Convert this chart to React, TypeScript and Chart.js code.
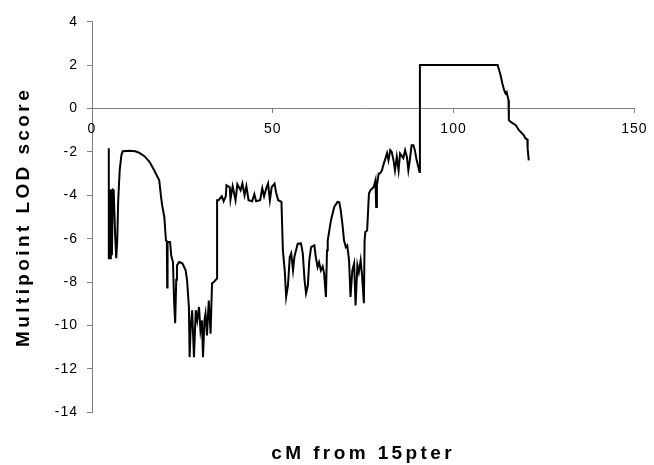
import React, { useEffect, useRef } from 'react';
import { Chart, registerables } from 'chart.js';

Chart.register(...registerables);

const FONT = '"Liberation Sans", Arial, Helvetica, sans-serif';

// Position along chromosome 15 (cM from 15pter)
const lodX = [
  4.65, 4.65, 4.93, 5.06, 5.2, 5.5, 5.75, 6.0, 6.4, 6.7,
  6.98, 7.25, 7.66, 8.13, 8.49, 10.4, 12.0, 13.1, 14.5, 15.9,
  17.2, 18.6, 19.1, 19.4, 20.0, 20.45, 20.7, 20.8, 20.9, 21.6,
  21.9, 22.4, 22.7, 23.0, 23.3, 23.5, 24.1, 25.0, 25.9, 26.3,
  26.8, 27.0, 27.3, 27.7, 28.2, 28.7, 29.1, 29.6, 30.0, 30.4,
  30.7, 31.1, 31.4, 31.8, 32.3, 32.8, 33.2, 33.7, 34.6, 34.6,
  35.0, 35.9, 36.4, 37.0, 37.2, 38.1, 38.3, 38.9, 39.7, 40.2,
  41.1, 41.6, 42.2, 42.7, 43.3, 44.3, 44.9, 45.4, 46.5, 47.1,
  47.6, 48.2, 48.7, 49.2, 49.7, 50.5, 50.9, 51.5, 52.4, 52.8,
  53.3, 53.7, 54.2, 54.7, 55.1, 55.6, 56.0, 56.9, 57.8, 58.3,
  58.8, 59.2, 59.7, 60.1, 60.6, 61.5, 61.9, 62.4, 62.8, 63.3,
  63.8, 64.2, 64.7, 65.0, 65.2, 66.1, 67.0, 67.9, 68.4, 68.8,
  69.3, 69.7, 70.2, 70.6, 71.1, 71.5, 72.0, 72.5, 72.9, 73.4,
  73.8, 74.3, 74.7, 75.2, 75.4, 75.6, 76.1, 76.6, 77.0, 77.9,
  78.4, 78.6, 78.8, 79.3, 79.7, 80.2, 80.7, 81.0, 81.6, 82.0,
  82.5, 82.9, 83.4, 83.8, 84.3, 84.8, 85.2, 86.1, 86.6, 87.1,
  87.5, 87.9, 88.4, 88.9, 89.3, 89.8, 90.6, 90.7, 112.2, 112.6,
  113.1, 113.5, 114.0, 114.4, 114.7, 115.2, 115.3, 115.8, 117.2, 118.1,
  119.4, 119.9, 120.4, 120.5, 120.8,
];

// Multipoint LOD score
const lodY = [
  -1.83, -6.95, -3.74, -6.9, -3.74, -6.77, -3.74, -3.77, -5.85, -6.9,
  -6.1, -4.23, -2.85, -2.15, -1.97, -1.95, -1.97, -2.05, -2.2, -2.46,
  -2.85, -3.31, -4.08, -4.46, -5.0, -6.08, -6.12, -8.25, -6.15, -6.15,
  -6.77, -7.09, -8.85, -9.9, -7.9, -7.23, -7.08, -7.14, -7.46, -7.92,
  -9.15, -11.46, -10.08, -9.3, -11.46, -9.3, -9.77, -9.15, -10.23, -9.77,
  -11.46, -9.77, -9.45, -10.46, -8.85, -10.38, -8.06, -8.0, -7.83, -4.23,
  -4.23, -4.05, -4.28, -4.05, -3.54, -3.63, -4.19, -3.58, -4.23, -3.49,
  -3.77, -3.46, -4.0, -3.58, -4.23, -4.28, -3.95, -4.28, -4.23, -3.68,
  -4.05, -3.68, -3.46, -4.23, -3.63, -3.46, -3.86, -4.23, -4.31, -6.54,
  -7.46, -8.69, -8.16, -6.85, -6.68, -7.46, -6.82, -6.23, -6.22, -6.68,
  -7.92, -8.52, -8.16, -7.0, -6.39, -6.31, -6.85, -7.31, -7.09, -7.46,
  -7.28, -7.6, -8.69, -6.54, -6.08, -5.15, -4.54, -4.31, -4.33, -4.7,
  -5.39, -6.08, -6.39, -6.31, -7.0, -8.69, -7.46, -7.14, -9.08, -7.23,
  -7.55, -7.0, -7.69, -8.98, -6.08, -5.69, -5.62, -3.92, -3.77, -3.62,
  -3.31, -4.54, -3.54, -3.0, -2.99, -2.85, -2.54, -2.39, -2.06, -2.39,
  -1.92, -2.0, -2.39, -2.85, -2.23, -2.85, -2.08, -2.29, -1.92, -2.23,
  -2.85, -2.39, -1.69, -1.69, -1.92, -2.39, -2.93, 2.0, 2.0, 1.77,
  1.46, 1.15, 0.84, 0.69, 0.75, 0.38, -0.54, -0.62, -0.77, -1.0,
  -1.23, -1.38, -1.42, -1.85, -2.39,
];

const xTicks = [0, 50, 100, 150];
const yTicks = [-14, -12, -10, -8, -6, -4, -2, 0, 2, 4];

const xTitle = 'cM from 15pter';
const yTitle = 'Multipoint LOD score';

const spacingPlugin = {
  id: 'letterSpacingPlugin',
  beforeDraw(chart: any) {
    chart.ctx.letterSpacing = '3.4px';
  },
  afterDatasetsDraw(chart: any) {
    chart.ctx.letterSpacing = '1px';
  },
  afterDraw(chart: any) {
    chart.ctx.letterSpacing = '0px';
  },
};

export default function App() {
  const ref = useRef<HTMLCanvasElement | null>(null);

  useEffect(() => {
    if (!ref.current) return;
    const points = lodX.map((x, i) => ({ x, y: lodY[i] }));
    const chart = new Chart(ref.current, {
      type: 'line',
      data: {
        datasets: [
          {
            data: points,
            borderColor: '#000000',
            borderWidth: 2,
            pointRadius: 0,
            tension: 0,
            fill: false,
          },
        ],
      },
      options: {
        animation: false,
        responsive: false,
        layout: { padding: { top: 21.7, right: 14, bottom: 0, left: 0 } },
        plugins: {
          legend: { display: false },
          tooltip: { enabled: false },
          title: {
            display: true,
            text: xTitle,
            position: 'bottom',
            fullSize: false,
            color: '#000000',
            font: { family: FONT, size: 19, weight: 'bold' },
            padding: { top: 30, bottom: 0 },
          },
        },
        scales: {
          x: {
            type: 'linear',
            position: { y: 0 } as any,
            min: xTicks[0],
            max: xTicks[xTicks.length - 1],
            afterBuildTicks: (s: any) => {
              s.ticks = xTicks.map((v) => ({ value: v }));
            },
            ticks: {
              color: '#000000',
              font: { family: FONT, size: 14 },
              padding: 8,
              z: 1,
              maxRotation: 0,
              autoSkip: false,
            },
            grid: { drawOnChartArea: false, drawTicks: true, tickLength: 4, color: '#808080' },
            border: { color: '#808080', width: 1 },
          },
          y: {
            type: 'linear',
            position: 'left',
            min: yTicks[0],
            max: yTicks[yTicks.length - 1],
            afterBuildTicks: (s: any) => {
              s.ticks = yTicks.map((v) => ({ value: v }));
            },
            afterFit: (s: any) => {
              s.width = 92;
            },
            ticks: {
              color: '#000000',
              font: { family: FONT, size: 14 },
              padding: 9,
              z: 1,
              autoSkip: false,
            },
            grid: { drawOnChartArea: false, drawTicks: true, tickLength: 5, color: '#808080' },
            border: { color: '#808080', width: 1 },
            title: {
              display: true,
              text: yTitle,
              color: '#000000',
              font: { family: FONT, size: 19, weight: 'bold' },
              padding: { top: 12, bottom: 0 },
            },
          },
        },
      },
      plugins: [spacingPlugin],
    } as any);
    return () => chart.destroy();
  }, []);

  return (
    <div style={{ position: 'absolute', left: 0, top: 0, width: 654, height: 465, background: '#ffffff' }}>
      <canvas ref={ref} width={654} height={465} style={{ display: 'block' }} />
    </div>
  );
}
